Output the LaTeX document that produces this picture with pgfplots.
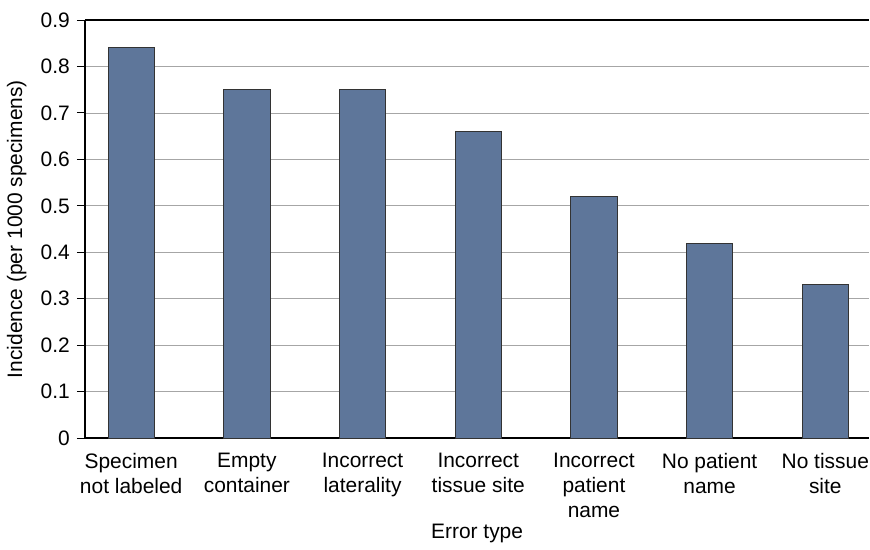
\documentclass[border=0pt]{standalone}
\usepackage{pgfplots}
\pgfplotsset{compat=1.18}
\usepackage{fontspec}
\setmainfont{Liberation Sans}
\definecolor{barblue}{RGB}{94,118,154}
\begin{document}
\fontsize{21}{25}\selectfont
\begin{tikzpicture}
\begin{axis}[
    width=784bp, height=418bp, scale only axis,
    ymin=0, ymax=0.9, ytick={0,0.1,0.2,0.3,0.4,0.5,0.6,0.7,0.8,0.9},
    xmin=-0.4, xmax=6.38,
    xtick=data,
    xticklabels={{Specimen\\not labeled},{Empty\\container},{Incorrect\\laterality},{Incorrect\\tissue site},{Incorrect\\patient\\name},{No patient\\name},{No tissue\\site}},
    xticklabel style={align=center, inner xsep=0pt, font=\fontsize{21}{25}\selectfont},
    yticklabel style={/pgf/number format/fixed, /pgf/number format/precision=1, font=\fontsize{21}{25}\selectfont},
    /pgf/number format/assume math mode=true,
    axis x line*=bottom, axis y line*=left,
    axis line style={-, line width=1.5pt, black},
    xtick style={draw=none},
    ytick style={line width=1pt, black},
    tick align=outside, major tick length=8bp,
    ymajorgrids, grid style={gray!70, line width=0.8pt},
    xlabel={Error type}, ylabel={Incidence (per 1000 specimens)},
    label style={font=\fontsize{21}{25}\selectfont},
    xlabel style={yshift=8bp},
    clip=false,
]
\addplot[ybar, bar width=0.4, fill=barblue, draw=black!80, line width=0.8pt] coordinates {
    (0,0.84) (1,0.75) (2,0.75) (3,0.66) (4,0.52) (5,0.42) (6,0.33)
};
\draw[line width=1.5pt] (rel axis cs:0,1) -- (rel axis cs:1,1);
\path ([yshift=20bp]rel axis cs:1,1);
\path ([yshift=-107bp]rel axis cs:1,0);
\end{axis}
\end{tikzpicture}
\end{document}
